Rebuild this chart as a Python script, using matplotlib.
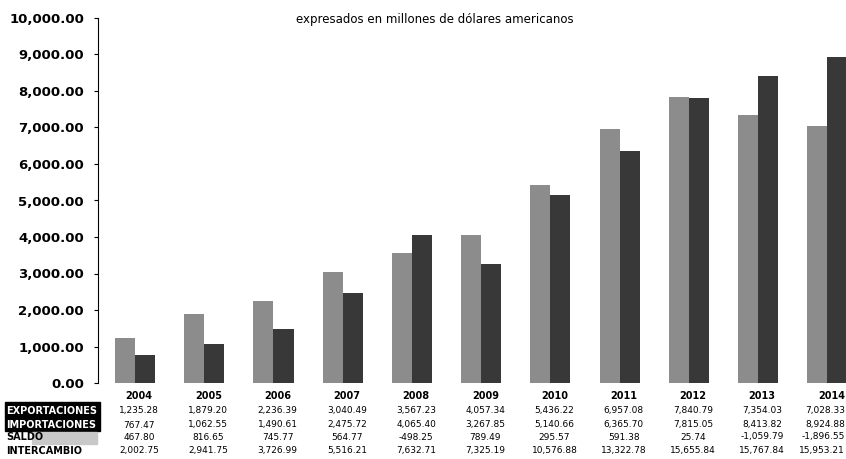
import numpy as np
from matplotlib import pyplot as plt
from matplotlib import transforms

years = ["2004", "2005", "2006", "2007", "2008", "2009", "2010", "2011", "2012", "2013", "2014"]
exportaciones = [1235.28, 1879.20, 2236.39, 3040.49, 3567.23, 4057.34, 5436.22, 6957.08, 7840.79, 7354.03, 7028.33]
importaciones = [767.47, 1062.55, 1490.61, 2475.72, 4065.40, 3267.85, 5140.66, 6365.70, 7815.05, 8413.82, 8924.88]
saldo = [467.80, 816.65, 745.77, 564.77, -498.25, 789.49, 295.57, 591.38, 25.74, -1059.79, -1896.55]
intercambio = [2002.75, 2941.75, 3726.99, 5516.21, 7632.71, 7325.19, 10576.88, 13322.78, 15655.84, 15767.84, 15953.21]
row_labels = ["EXPORTACIONES", "IMPORTACIONES", "SALDO", "INTERCAMBIO"]
title = "expresados en millones de dólares americanos"

H = 459.0
W = 846.0

fig = plt.figure(figsize=(8.46, 4.59), dpi=100)
ax = fig.add_axes([98 / W, 1 - 383 / H, 1 - 98 / W, 365 / H])

x = np.arange(len(years))
w = 0.29
ax.bar(x - w / 2, exportaciones, w, color="#8c8c8c", linewidth=0)
ax.bar(x + w / 2, importaciones, w, color="#383838", linewidth=0)

ax.set_xlim(-0.535, 10.27)
ax.set_ylim(0, 10000)
ax.set_yticks(np.arange(0, 10001, 1000))
ax.set_yticklabels(["{:,.2f}".format(v) for v in np.arange(0, 10001, 1000)],
                   fontsize=9.5, fontweight="bold")
ax.tick_params(axis="y", length=3, width=0.8, pad=7)
ax.set_xticks([])
for s in ["top", "right", "bottom"]:
    ax.spines[s].set_visible(False)
ax.spines["left"].set_linewidth(0.8)

fig.text(435 / W, 1 - 20 / H, title, fontsize=8.5, ha="center", va="center")

# data table below the axis
tr = transforms.blended_transform_factory(ax.transData, fig.transFigure)
row_y = [411, 425, 437, 451]
for i, yr in enumerate(years):
    ax.text(i + 0.06, 1 - 396 / H, yr, transform=tr, ha="center", va="center",
            fontsize=7, fontweight="bold")
    for vals, yy in zip([exportaciones, importaciones, saldo, intercambio], row_y):
        txt = "{:,.2f}".format(vals[i])
        if i == len(years) - 1:
            fig.text(845 / W, 1 - yy / H, txt, ha="right", va="center", fontsize=6.5)
        else:
            ax.text(i + 0.06, 1 - yy / H, txt, transform=tr,
                    ha="center", va="center", fontsize=6.5)

# row labels
fig.patches.append(plt.Rectangle((5 / W, 1 - 431 / H), 95 / W, 29 / H,
                                 transform=fig.transFigure, color="black"))
fig.patches.append(plt.Rectangle((32 / W, 1 - 444 / H), 65 / W, 12 / H,
                                 transform=fig.transFigure, color="#c8c8c8"))
colors = ["white", "white", "black", "black"]
for lab, yy, c in zip(row_labels, row_y, colors):
    fig.text(6 / W, 1 - yy / H, lab, fontsize=7, fontweight="bold", color=c,
             ha="left", va="center")

fig.savefig("out.png", dpi=100)
